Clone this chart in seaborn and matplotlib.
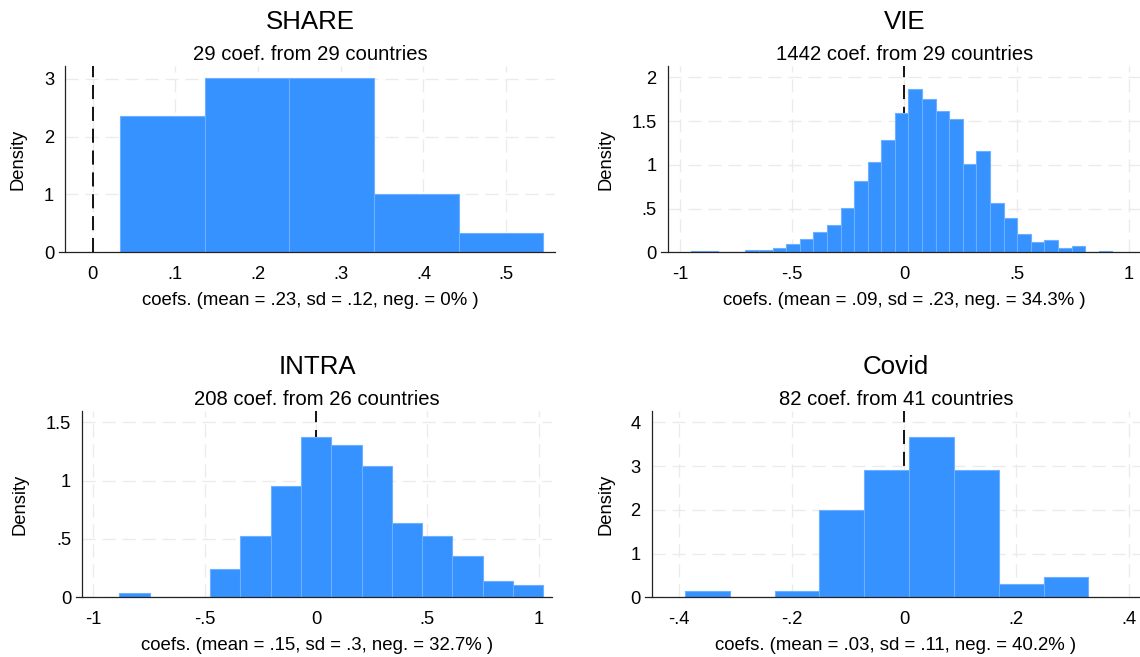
import numpy as np
import pandas as pd
import matplotlib
matplotlib.use("Agg")
import matplotlib.pyplot as plt
import seaborn as sns

# ---- data: histogram densities of estimated coefficients per survey ----
panel_titles = ["SHARE", "VIE", "INTRA", "Covid"]
panel_subtitles = [
    "29 coef. from 29 countries",
    "1442 coef. from 29 countries",
    "208 coef. from 26 countries",
    "82 coef. from 41 countries",
]
panel_xlabels = [
    "coefs. (mean = .23, sd = .12, neg. = 0% )",
    "coefs. (mean = .09, sd = .23, neg. = 34.3% )",
    "coefs. (mean = .15, sd = .3, neg. = 32.7% )",
    "coefs. (mean = .03, sd = .11, neg. = 40.2% )",
]

# first bin edge, bin width, density of each bin
share_start, share_width = 0.033, 0.1024
share_density = [2.353, 3.02, 3.02, 1.01, 0.336]

vie_start, vie_width = -0.951, 0.06058
vie_density = [0.012, 0.012, 0.0, 0.0, 0.023, 0.023, 0.046, 0.093, 0.151, 0.229,
               0.310, 0.506, 0.811, 1.030, 1.284, 1.589, 1.862, 1.749, 1.611, 1.520,
               1.006, 1.158, 0.561, 0.390, 0.209, 0.115, 0.137, 0.047, 0.070, 0.0,
               0.012]

intra_start, intra_width = -0.8826, 0.1359
intra_density = [0.035, 0.0, 0.0, 0.245, 0.525, 0.955, 1.375, 1.306, 1.125, 0.634,
                 0.525, 0.351, 0.140, 0.104]

covid_start, covid_width = -0.3897, 0.07975
covid_density = [0.15, 0.0, 0.15, 1.99, 2.905, 3.665, 2.905, 0.30, 0.455]

# axis ticks and their labels
share_xticks = [0, 0.1, 0.2, 0.3, 0.4, 0.5]
share_xticklabels = ["0", ".1", ".2", ".3", ".4", ".5"]
share_yticks = [0, 1, 2, 3]
share_yticklabels = ["0", "1", "2", "3"]

vie_xticks = [-1, -0.5, 0, 0.5, 1]
vie_xticklabels = ["-1", "-.5", "0", ".5", "1"]
vie_yticks = [0, 0.5, 1, 1.5, 2]
vie_yticklabels = ["0", ".5", "1", "1.5", "2"]

intra_xticks = [-1, -0.5, 0, 0.5, 1]
intra_xticklabels = ["-1", "-.5", "0", ".5", "1"]
intra_yticks = [0, 0.5, 1, 1.5]
intra_yticklabels = ["0", ".5", "1", "1.5"]

covid_xticks = [-0.4, -0.2, 0, 0.2, 0.4]
covid_xticklabels = ["-.4", "-.2", "0", ".2", ".4"]
covid_yticks = [0, 1, 2, 3, 4]
covid_yticklabels = ["0", "1", "2", "3", "4"]

# ---- styling ----
sns.set_style("white")
plt.rcParams["font.family"] = ["Liberation Sans", "DejaVu Sans"]

BAR_COLOR = "#3592FF"
BAR_EDGE = "#6CB0FF"
GRID_COLOR = "#EBEBEB"
AXIS_COLOR = "#222222"
TICK_COLOR = "#444444"

W, H = 1140, 657
fig = plt.figure(figsize=(W / 100, H / 100), dpi=100)
fig.patch.set_facecolor("white")

# plot regions in pixels: left, top, right, bottom
regions = [
    (65.3, 66.0, 555.0, 252.3),
    (667.7, 66.0, 1141.5, 252.3),
    (82.3, 411.0, 551.7, 597.3),
    (651.7, 411.0, 1140.0, 597.3),
]
xlims = [(-0.0331, 0.559), (-1.055, 1.057), (-1.049, 1.058), (-0.449, 0.42)]
ylims = [(0, 3.223), (0, 2.13), (0, 1.597), (0, 4.26)]
ylabel_x = [18.0, 605.6, 20.0, 605.6]

hists = [
    (share_start, share_width, share_density),
    (vie_start, vie_width, vie_density),
    (intra_start, intra_width, intra_density),
    (covid_start, covid_width, covid_density),
]
ticks = [
    (share_xticks, share_xticklabels, share_yticks, share_yticklabels),
    (vie_xticks, vie_xticklabels, vie_yticks, vie_yticklabels),
    (intra_xticks, intra_xticklabels, intra_yticks, intra_yticklabels),
    (covid_xticks, covid_xticklabels, covid_yticks, covid_yticklabels),
]

for i in range(4):
    left, top, right, bottom = regions[i]
    ax = fig.add_axes([left / W, 1 - bottom / H, (right - left) / W, (bottom - top) / H])

    start, width, dens = hists[i]
    edges = [start + width * k for k in range(len(dens) + 1)]
    frame = pd.DataFrame({
        "coef": [e + width / 2 for e in edges[:-1]],
        "density": dens,
    })
    sns.histplot(data=frame, x="coef", weights="density", bins=edges,
                 stat="count", ax=ax, color=BAR_COLOR, edgecolor=BAR_EDGE,
                 linewidth=0.8, alpha=1, zorder=2)

    # reference line at zero, drawn behind the bars
    ax.axvline(0, color="black", linewidth=1.3, dashes=(7.8, 4.3), zorder=1.5)

    x0, x1 = xlims[i]
    ax.set_xlim(x0, x1)
    ax.set_ylim(*ylims[i])
    xt, xtl, yt, ytl = ticks[i]
    ax.set_xticks(xt)
    ax.set_xticklabels(xtl)
    ax.set_yticks(yt)
    ax.set_yticklabels(ytl)

    ax.grid(True, color=GRID_COLOR, linestyle=(0, (9.4, 5.0)), linewidth=1.0)
    ax.set_axisbelow(True)

    for side in ["top", "right"]:
        ax.spines[side].set_visible(False)
    for side in ["left", "bottom"]:
        ax.spines[side].set_color(AXIS_COLOR)
        ax.spines[side].set_linewidth(0.9)
    # x axis line runs a few pixels past the y axis, as the outward tick does
    per_px = (x1 - x0) / (right - left)
    ax.spines["bottom"].set_bounds(x0 - 6.5 * per_px, x1)
    ax.spines["bottom"].set_clip_on(False)

    ax.tick_params(axis="x", direction="out", length=3.6, width=0.8,
                   color=TICK_COLOR, labelsize=13.2, pad=6.6, labelcolor="black")
    ax.tick_params(axis="y", direction="out", length=3.6, width=0.8,
                   color=TICK_COLOR, labelsize=13.2, pad=4.5, labelcolor="black")
    ax.set_xlabel("")
    ax.set_ylabel("")

    cx = (left + right) / 2
    fig.text(cx / W, 1 - (top - 36.7) / H, panel_titles[i], ha="center",
             va="baseline", fontsize=18.6, color="black")
    fig.text(cx / W, 1 - (top - 6.0) / H, panel_subtitles[i], ha="center",
             va="baseline", fontsize=14.6, color="black")
    fig.text(cx / W, 1 - (bottom + 52.7) / H, panel_xlabels[i], ha="center",
             va="baseline", fontsize=13.4, color="black")
    fig.text(ylabel_x[i] / W, 1 - ((top + bottom) / 2) / H, "Density",
             ha="center", va="center", rotation=90, fontsize=13.2, color="black")

fig.savefig("out.png", dpi=100, facecolor="white")
